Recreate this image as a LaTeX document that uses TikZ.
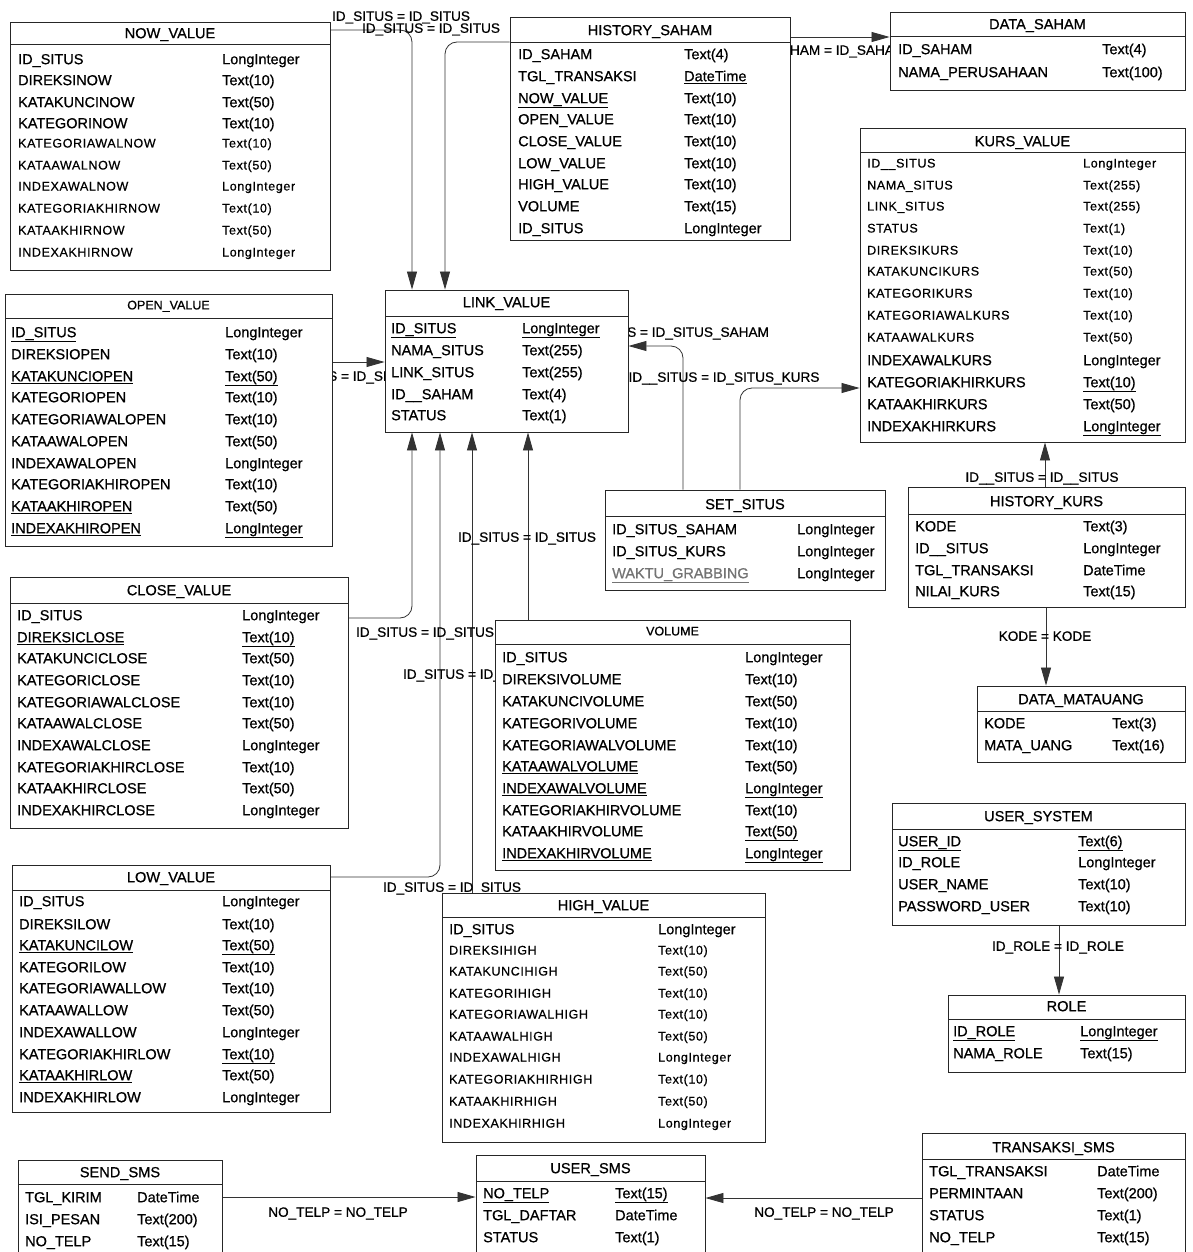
\documentclass[tikz,border=0pt]{standalone}
\usepackage{fontspec}
\setmainfont{Liberation Sans}[FakeBold=0.7]
\newfontfamily\smlfam[LetterSpace=5,FakeBold=0.6]{Liberation Sans}
\usetikzlibrary{arrows.meta,fit,backgrounds}

\tikzset{
 tbl/.style={draw=black!85, line width=0.9pt, fill=white, inner sep=0pt},
 ttl/.style={inner sep=0pt, text height=10.4pt, text depth=0pt, font=\fontsize{14.6}{16}\selectfont},
 ttlsml/.style={inner sep=0pt, text height=8.8pt, text depth=0pt, font=\fontsize{12.5}{14}\selectfont},
 sepline/.style={draw=black!85, line width=0.9pt},
 cell/.style={anchor=base west, inner sep=0pt, yshift=-5.2pt},
 rowbig/.style={font=\fontsize{14.5}{16}\selectfont},
 rowsml/.style={font=\smlfam\fontsize{12.5}{14}\selectfont, yshift=0.7pt},
 conn/.style={draw=black!80, line width=0.8pt, rounded corners=12pt, -{Triangle[length=18pt,width=10pt]}},
 lbl/.style={inner sep=0pt, text height=9.6pt, text depth=0pt, font=\fontsize{13.6}{15}\selectfont},
}

\newcommand\ertable[9]{%
  \node[tbl, fit={(#2,#3) (#4,#5)}] (#1) {};
  \node[#9] (#1-title) at ({(#2+#4)/2},#7) {#6};
  \draw[sepline] (#2,#8) -- (#4,#8);
}
\newcommand\errows[4]{%
  \foreach [count=\i] \yy/\aa/\bb/\ss in {#4} {
    \node[cell,\ss] (#1-n\i) at (#2,\yy) {\aa};
    \node[cell,\ss] (#1-t\i) at (#3,\yy) {\bb};
  }
}

\begin{document}
\begin{tikzpicture}[x=1pt,y=-1pt]
\useasboundingbox (0,0) rectangle (1192,1252);
\clip (0,0) rectangle (1192,1252);

% ---------- tables ----------
\ertable{nowv}{10}{22}{330}{270}{NOW\_VALUE}{33}{44}{ttl}
\errows{nowv}{18}{222}{
 59/ID\_SITUS/LongInteger/rowbig,
 80/DIREKSINOW/Text(10)/rowbig,
 102/KATAKUNCINOW/Text(50)/rowbig,
 123/KATEGORINOW/Text(10)/rowbig,
 143/KATEGORIAWALNOW/Text(10)/rowsml,
 165/KATAAWALNOW/Text(50)/rowsml,
 186/INDEXAWALNOW/LongInteger/rowsml,
 208/KATEGORIAKHIRNOW/Text(10)/rowsml,
 230/KATAAKHIRNOW/Text(50)/rowsml,
 252/INDEXAKHIRNOW/LongInteger/rowsml}

\ertable{hsaham}{510}{17}{790}{240}{HISTORY\_SAHAM}{30}{42}{ttl}
\errows{hsaham}{518}{684}{
 54/ID\_SAHAM/Text(4)/rowbig,
 76/TGL\_TRANSAKSI/{\underline{DateTime}}/rowbig,
 98/{\underline{NOW\_VALUE}}/Text(10)/rowbig,
 119/OPEN\_VALUE/Text(10)/rowbig,
 141/CLOSE\_VALUE/Text(10)/rowbig,
 163/LOW\_VALUE/Text(10)/rowbig,
 184/HIGH\_VALUE/Text(10)/rowbig,
 206/VOLUME/Text(15)/rowbig,
 228/ID\_SITUS/LongInteger/rowbig}

\ertable{dsaham}{890}{12}{1185}{90}{DATA\_SAHAM}{24}{36}{ttl}
\errows{dsaham}{898}{1102}{
 49/ID\_SAHAM/Text(4)/rowbig,
 72/NAMA\_PERUSAHAAN/Text(100)/rowbig}

\ertable{kurs}{860}{128}{1185}{442}{KURS\_VALUE}{141}{152}{ttl}
\errows{kurs}{867}{1083}{
 163/ID\_\_SITUS/LongInteger/rowsml,
 185/NAMA\_SITUS/Text(255)/rowsml,
 206/LINK\_SITUS/Text(255)/rowsml,
 228/STATUS/Text(1)/rowsml,
 250/DIREKSIKURS/Text(10)/rowsml,
 271/KATAKUNCIKURS/Text(50)/rowsml,
 293/KATEGORIKURS/Text(10)/rowsml,
 315/KATEGORIAWALKURS/Text(10)/rowsml,
 337/KATAAWALKURS/Text(50)/rowsml,
 360/INDEXAWALKURS/LongInteger/rowbig,
 382/KATEGORIAKHIRKURS/{\underline{Text(10)}}/rowbig,
 404/KATAAKHIRKURS/Text(50)/rowbig,
 426/INDEXAKHIRKURS/{\underline{LongInteger}}/rowbig}

\ertable{openv}{5}{294}{332}{546}{OPEN\_VALUE}{305}{318}{ttlsml}
\errows{openv}{11}{225}{
 332/{\underline{ID\_SITUS}}/LongInteger/rowbig,
 354/DIREKSIOPEN/Text(10)/rowbig,
 376/{\underline{KATAKUNCIOPEN}}/{\underline{Text(50)}}/rowbig,
 397/KATEGORIOPEN/Text(10)/rowbig,
 419/KATEGORIAWALOPEN/Text(10)/rowbig,
 441/KATAAWALOPEN/Text(50)/rowbig,
 463/INDEXAWALOPEN/LongInteger/rowbig,
 484/KATEGORIAKHIROPEN/Text(10)/rowbig,
 506/{\underline{KATAAKHIROPEN}}/Text(50)/rowbig,
 528/{\underline{INDEXAKHIROPEN}}/{\underline{LongInteger}}/rowbig}

\ertable{link}{385}{290}{628}{432}{LINK\_VALUE}{302}{316}{ttl}
\errows{link}{391}{522}{
 328/{\underline{ID\_SITUS}}/{\underline{LongInteger}}/rowbig,
 350/NAMA\_SITUS/Text(255)/rowbig,
 372/LINK\_SITUS/Text(255)/rowbig,
 394/ID\_\_SAHAM/Text(4)/rowbig,
 415/STATUS/Text(1)/rowbig}

\ertable{setsitus}{605}{490}{885}{590}{SET\_SITUS}{504}{516}{ttl}
\errows{setsitus}{612}{797}{
 529/ID\_SITUS\_SAHAM/LongInteger/rowbig,
 551/ID\_SITUS\_KURS/LongInteger/rowbig,
 573/{\color{black!55}\underline{WAKTU\_GRABBING}}/LongInteger/rowbig}

\ertable{hkurs}{908}{487}{1185}{607}{HISTORY\_KURS}{501}{514}{ttl}
\errows{hkurs}{915}{1083}{
 526/KODE/Text(3)/rowbig,
 548/ID\_\_SITUS/LongInteger/rowbig,
 570/TGL\_TRANSAKSI/DateTime/rowbig,
 591/NILAI\_KURS/Text(15)/rowbig}

\ertable{dmu}{977}{686}{1185}{762}{DATA\_MATAUANG}{699}{711}{ttl}
\errows{dmu}{984}{1112}{
 723/KODE/Text(3)/rowbig,
 745/MATA\_UANG/Text(16)/rowbig}

\ertable{closev}{10}{577}{348}{828}{CLOSE\_VALUE}{590}{603}{ttl}
\errows{closev}{17}{242}{
 615/ID\_SITUS/LongInteger/rowbig,
 637/{\underline{DIREKSICLOSE}}/{\underline{Text(10)}}/rowbig,
 658/KATAKUNCICLOSE/Text(50)/rowbig,
 680/KATEGORICLOSE/Text(10)/rowbig,
 702/KATEGORIAWALCLOSE/Text(10)/rowbig,
 723/KATAAWALCLOSE/Text(50)/rowbig,
 745/INDEXAWALCLOSE/LongInteger/rowbig,
 767/KATEGORIAKHIRCLOSE/Text(10)/rowbig,
 788/KATAAKHIRCLOSE/Text(50)/rowbig,
 810/INDEXAKHIRCLOSE/LongInteger/rowbig}

\ertable{vol}{495}{620}{850}{870}{VOLUME}{631}{644}{ttlsml}
\errows{vol}{502}{745}{
 657/ID\_SITUS/LongInteger/rowbig,
 679/DIREKSIVOLUME/Text(10)/rowbig,
 701/KATAKUNCIVOLUME/Text(50)/rowbig,
 723/KATEGORIVOLUME/Text(10)/rowbig,
 745/KATEGORIAWALVOLUME/Text(10)/rowbig,
 766/{\underline{KATAAWALVOLUME}}/Text(50)/rowbig,
 788/{\underline{INDEXAWALVOLUME}}/{\underline{LongInteger}}/rowbig,
 810/KATEGORIAKHIRVOLUME/Text(10)/rowbig,
 831/KATAAKHIRVOLUME/{\underline{Text(50)}}/rowbig,
 853/{\underline{INDEXAKHIRVOLUME}}/{\underline{LongInteger}}/rowbig}

\ertable{usys}{892}{803}{1185}{925}{USER\_SYSTEM}{816}{829}{ttl}
\errows{usys}{898}{1078}{
 841/{\underline{USER\_ID}}/{\underline{Text(6)}}/rowbig,
 862/ID\_ROLE/LongInteger/rowbig,
 884/USER\_NAME/Text(10)/rowbig,
 906/PASSWORD\_USER/Text(10)/rowbig}

\ertable{role}{948}{995}{1185}{1072}{ROLE}{1006}{1019}{ttl}
\errows{role}{953}{1080}{
 1031/{\underline{ID\_ROLE}}/{\underline{LongInteger}}/rowbig,
 1053/NAMA\_ROLE/Text(15)/rowbig}

\ertable{lowv}{12}{865}{330}{1112}{LOW\_VALUE}{877}{890}{ttl}
\errows{lowv}{19}{222}{
 901/ID\_SITUS/LongInteger/rowbig,
 924/DIREKSILOW/Text(10)/rowbig,
 945/{\underline{KATAKUNCILOW}}/{\underline{Text(50)}}/rowbig,
 967/KATEGORILOW/Text(10)/rowbig,
 988/KATEGORIAWALLOW/Text(10)/rowbig,
 1010/KATAAWALLOW/Text(50)/rowbig,
 1032/INDEXAWALLOW/LongInteger/rowbig,
 1054/KATEGORIAKHIRLOW/{\underline{Text(10)}}/rowbig,
 1075/{\underline{KATAAKHIRLOW}}/Text(50)/rowbig,
 1097/INDEXAKHIRLOW/LongInteger/rowbig}

\ertable{highv}{442}{893}{765}{1142}{HIGH\_VALUE}{905}{917}{ttl}
\errows{highv}{449}{658}{
 929/ID\_SITUS/LongInteger/rowbig,
 950/DIREKSIHIGH/Text(10)/rowsml,
 971/KATAKUNCIHIGH/Text(50)/rowsml,
 993/KATEGORIHIGH/Text(10)/rowsml,
 1014/KATEGORIAWALHIGH/Text(10)/rowsml,
 1036/KATAAWALHIGH/Text(50)/rowsml,
 1057/INDEXAWALHIGH/LongInteger/rowsml,
 1079/KATEGORIAKHIRHIGH/Text(10)/rowsml,
 1101/KATAAKHIRHIGH/Text(50)/rowsml,
 1123/INDEXAKHIRHIGH/LongInteger/rowsml}

\ertable{sendsms}{18}{1160}{222}{1262}{SEND\_SMS}{1172}{1184}{ttl}
\errows{sendsms}{25}{137}{
 1197/TGL\_KIRIM/DateTime/rowbig,
 1219/ISI\_PESAN/Text(200)/rowbig,
 1241/NO\_TELP/Text(15)/rowbig}

\ertable{usms}{476}{1155}{705}{1262}{USER\_SMS}{1168}{1181}{ttl}
\errows{usms}{483}{615}{
 1193/{\underline{NO\_TELP}}/{\underline{Text(15)}}/rowbig,
 1215/TGL\_DAFTAR/DateTime/rowbig,
 1237/STATUS/Text(1)/rowbig}

\ertable{tsms}{922}{1133}{1185}{1262}{TRANSAKSI\_SMS}{1147}{1159}{ttl}
\errows{tsms}{929}{1097}{
 1171/TGL\_TRANSAKSI/DateTime/rowbig,
 1193/PERMINTAAN/Text(200)/rowbig,
 1215/STATUS/Text(1)/rowbig,
 1237/NO\_TELP/Text(15)/rowbig}

% ---------- connectors and labels (behind tables) ----------
\begin{pgfonlayer}{background}
\fill[white] (0,0) rectangle (1192,1252);
\draw[conn] (nowv.east |- 0,30) -| (link.north -| 412,0);
\draw[conn] (hsaham.west |- 0,42) -| (link.north -| 445,0);
\draw[conn] (hsaham.east |- 0,37) -- (dsaham.west |- 0,37);
\draw[conn] (openv.east |- 0,362) -- (link.west |- 0,362);
\draw[conn] (setsitus.north -| 683,0) |- (link.east |- 0,346);
\draw[conn] (setsitus.north -| 740,0) |- (kurs.west |- 0,388);
\draw[conn] (hkurs.north -| 1045,0) -- (kurs.south -| 1045,0);
\draw[conn] (hkurs.south -| 1046,0) -- (dmu.north -| 1046,0);
\draw[conn] (usys.south -| 1059,0) -- (role.north -| 1059,0);
\draw[conn] (closev.east |- 0,618) -| (link.south -| 412,0);
\draw[conn] (lowv.east |- 0,877) -| (link.south -| 440,0);
\draw[conn] (highv.north -| 472,0) -- (link.south -| 472,0);
\draw[conn] (vol.north -| 528,0) -- (link.south -| 528,0);
\draw[conn] (sendsms.east |- 0,1197) -- (usms.west |- 0,1197);
\draw[conn] (tsms.west |- 0,1198) -- (usms.east |- 0,1198);

\node[lbl] (lb-now) at (401,16) {ID\_SITUS = ID\_SITUS};
\node[lbl] (lb-hs) at (431,28) {ID\_SITUS = ID\_SITUS};
\node[lbl] (lb-ds) at (828,50) {ID\_SAHAM = ID\_SAHAM};
\node[lbl] (lb-open) at (345,376) {ID\_SITUS = ID\_SITUS};
\node[lbl] (lb-ss1) at (672,332) {ID\_SITUS = ID\_SITUS\_SAHAM};
\node[lbl] (lb-ss2) at (724,377) {ID\_\_SITUS = ID\_SITUS\_KURS};
\node[lbl] (lb-hk) at (1042,477) {ID\_\_SITUS = ID\_\_SITUS};
\node[lbl] (lb-mu) at (1045,636) {KODE = KODE};
\node[lbl] (lb-role) at (1058,946) {ID\_ROLE = ID\_ROLE};
\node[lbl] (lb-vol) at (527,537) {ID\_SITUS = ID\_SITUS};
\node[lbl] (lb-close) at (425,632) {ID\_SITUS = ID\_SITUS};
\node[lbl] (lb-high) at (472,674) {ID\_SITUS = ID\_SITUS};
\node[lbl] (lb-low) at (452,887) {ID\_SITUS = ID\_SITUS};
\node[lbl] (lb-send) at (338,1212) {NO\_TELP = NO\_TELP};
\node[lbl] (lb-trans) at (824,1212) {NO\_TELP = NO\_TELP};
\end{pgfonlayer}
\end{tikzpicture}
\end{document}
